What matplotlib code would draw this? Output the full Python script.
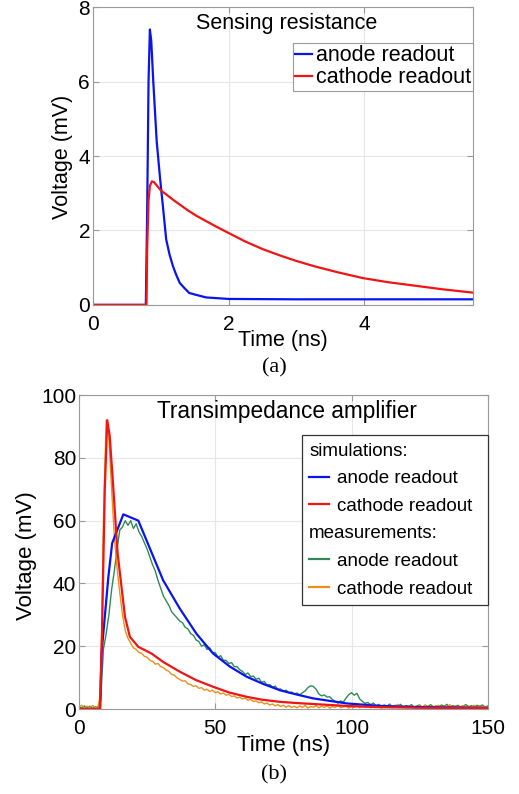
import numpy as np
import matplotlib
matplotlib.use("Agg")
import matplotlib.pyplot as plt
from matplotlib.lines import Line2D

plt.rcParams["font.family"] = ["Liberation Sans", "DejaVu Sans"]

# ---------------------------------------------------------------
# data (a): sensing resistance, time in ns, voltage in mV
# ---------------------------------------------------------------
sr_anode_t = [0, 0.78, 0.80, 0.82, 0.84, 0.86, 0.89, 0.94, 0.99, 1.04, 1.08,
              1.13, 1.18, 1.23, 1.28, 1.35, 1.42, 1.52, 1.67, 2.0, 3.0, 4.0, 5.6]
sr_anode_v = [0, 0, 2.5, 6.0, 7.4, 7.1, 6.0, 4.4, 3.4, 2.5, 1.76,
              1.35, 1.04, 0.8, 0.59, 0.45, 0.32, 0.27, 0.2, 0.16, 0.15, 0.15, 0.15]
sr_cathode_t = [0, 0.79, 0.80, 0.82, 0.84, 0.87, 0.9, 1.0, 1.1, 1.2, 1.3, 1.4,
                1.52, 1.65, 1.8, 1.98, 2.25, 2.5, 2.77, 3.0, 3.26, 3.6, 3.98,
                4.35, 4.73, 5.15, 5.6]
sr_cathode_v = [0, 0, 1.5, 2.8, 3.2, 3.32, 3.3, 3.08, 2.94, 2.8, 2.67, 2.54,
                2.4, 2.27, 2.12, 1.95, 1.7, 1.5, 1.32, 1.18, 1.04, 0.88, 0.72,
                0.61, 0.52, 0.42, 0.33]

# ---------------------------------------------------------------
# data (b): transimpedance amplifier
# ---------------------------------------------------------------
sim_anode_t = [0, 7.8, 8.3, 10.8, 12.2, 16.3, 21.8, 30.9, 37, 43.1, 49.2,
               55.4, 61.5, 67.6, 73.7, 80, 85.9, 98.1, 110.3, 125, 150]
sim_anode_v = [0, 0, 17.7, 42, 52.8, 62, 60, 41, 32, 24, 17.7,
               13.5, 10.3, 8, 6.0, 4.6, 3.4, 1.8, 1.0, 0.6, 0.4]
sim_cathode_t = [0, 7.7, 8.5, 9.5, 10.4, 11.3, 12.5, 14.2, 16.9, 18.7, 21.8,
                 26.6, 30.9, 37, 43, 49.2, 55, 61.5, 67, 73.7, 80, 86, 98,
                 110, 125, 150]
sim_cathode_v = [0, 0, 25, 70, 92, 87, 72, 49.6, 29.4, 23, 19.8,
                 17.7, 15, 11.9, 9.2, 7.1, 5.3, 3.9, 3.0, 2.3, 1.9, 1.6, 1.0,
                 0.6, 0.4, 0.3]

meas_t = list(range(151))
meas_anode_v = [
    0.8, 0.3, 1.0, 0.4, 0.9, 0.2, 0.7, 0.5,
    3, 19, 24, 30, 38, 44, 51, 57, 58, 60, 58.5, 60, 57.5,
    59, 56.5, 55, 53, 51, 48.5, 46, 44, 41, 38.5,
    36, 34.5, 33, 31, 30, 29, 28, 27.5, 26, 25.5,
    24, 23.5, 22, 21.5, 20, 20.5, 19, 19.5, 18, 18,
    16.5, 17, 15.5, 15.5, 14.5, 14.8, 13.5, 13.5, 12.5, 12,
    11, 11.5, 10.3, 10.5, 9.5, 9.8, 8.5, 8.8, 7.6, 7.8,
    7, 7.3, 6.3, 6.4, 5.6, 6, 5.2, 5.4, 4.8, 5.1,
    4.5, 5.2, 5.8, 6.8, 7.4, 7.2, 6.3, 4.8, 4.2, 4.5,
    3.8, 3.9, 3.0, 2.5, 1.9, 2.6, 2.2, 3.5, 4.6, 5.2,
    4.4, 5.0, 3.2, 2.4, 1.8, 2.1, 1.4, 1.9, 1.0, 1.5,
    0.7, 1.3, 0.9, 1.6, 0.6, 1.2, 0.8, 1.5, 0.5, 1.1,
    0.9, 1.4, 0.6, 1.0, 1.3, 0.5, 1.2, 0.8, 1.4, 0.7,
    1.0, 0.6, 1.3, 0.9, 1.5, 0.5, 1.1, 0.8, 1.2, 0.6,
    1.0, 1.4, 0.7, 1.1, 0.5, 1.2, 0.9, 1.3, 0.6, 1.0,
]
meas_cathode_v = [
    0.6, 1.2, 0.3, 0.9, 0.4, 1.1, 0.5, 0.8,
    5, 60, 92, 86, 70, 55, 45, 37, 30, 25, 22.5, 21, 19.5,
    19, 18, 17.8, 16.8, 16.5, 15.5, 15.2, 14.3, 14.5, 13.5,
    13.2, 12.4, 12.0, 11, 10.8, 9.9, 9.4, 8.9, 9.0, 8.0,
    7.8, 7.2, 7.4, 6.6, 6.8, 6.0, 6.3, 5.6, 6.0, 5.2,
    5.5, 4.8, 5.1, 4.4, 4.7, 4.0, 4.2, 3.5, 3.8, 3.2,
    3.5, 2.8, 3.1, 2.4, 2.6, 2.0, 2.3, 1.6, 1.9, 1.3,
    1.6, 1.0, 1.4, 0.8, 1.2, 0.6, 1.1, 0.5, 0.9, 0.4,
    1.0, 0.5, 1.2, 0.3, 0.8, 0.6, 1.1, 0.4, 0.9, 0.5,
    1.0, 0.3, 0.8, 0.5, 1.2, 0.4, 0.7, 0.9, 0.3, 0.8,
    0.5, 1.1, 0.4, 0.9, 0.6, 1.3, 0.4, 0.8, 0.5, 1.0,
    0.3, 0.9, 0.6, 1.2, 0.4, 0.8, 1.5, 0.6, 0.9, 0.4,
    1.1, 0.5, 0.8, 0.3, 1.0, 0.6, 1.3, 0.4, 0.9, 0.5,
    0.8, 1.2, 0.4, 0.9, 0.6, 1.4, 0.5, 1.0, 0.3, 0.8,
    1.1, 0.5, 0.9, 0.4, 1.2, 0.6, 1.0, 0.5, 0.8, 0.6,
]

BLUE = "#0a14f0"
RED = "#f01414"
GREEN = "#2f8a57"
ORANGE = "#e8901c"
SPINE = "#9a9a9a"
GRID = "#e6e6e6"


def style_axes(ax):
    ax.grid(True, color=GRID, lw=0.8)
    ax.set_axisbelow(True)
    for s in ax.spines.values():
        s.set_color(SPINE)
        s.set_linewidth(0.8)
    ax.tick_params(direction="in", length=4, color=SPINE, top=True, right=True,
                   labelsize=15)
    ax.tick_params(axis="y", pad=2)
    ax.tick_params(axis="x", pad=7)


fig = plt.figure(figsize=(5.19, 7.94), dpi=100)

# ------------------------- (a) ---------------------------------
ax1 = fig.add_axes([0.179, 0.616, 0.732, 0.375])
style_axes(ax1)
ax1.plot(sr_anode_t, sr_anode_v, color=BLUE, lw=1.6, label="anode readout")
ax1.plot(sr_cathode_t, sr_cathode_v, color=RED, lw=1.6, label="cathode readout")
ax1.set_xlim(0, 5.6)
ax1.set_ylim(0, 8)
ax1.set_xticks([0, 2, 4])
ax1.set_yticks([0, 2, 4, 6, 8])
ax1.set_xlabel("Time (ns)", fontsize=15.5, va="center")
ax1.xaxis.set_label_coords(0.5, -0.12)
ax1.set_ylabel("Voltage (mV)", fontsize=15.5, va="center")
ax1.yaxis.set_label_coords(-0.079, 0.497)
ax1.text(0.51, 0.946, "Sensing resistance", transform=ax1.transAxes,
         ha="center", va="center", fontsize=15.5)
leg1 = ax1.legend(loc="upper right", bbox_to_anchor=(1.0, 0.879), fontsize=15.5,
                  handlelength=0.8, handletextpad=0.15, borderpad=0.1,
                  labelspacing=0.05, borderaxespad=0, fancybox=False,
                  framealpha=1, edgecolor=SPINE)
leg1.get_frame().set_linewidth(0.8)

fig.text(0.528, 0.537, "(a)", family="Liberation Serif", fontsize=16,
         ha="center", va="center")

# ------------------------- (b) ---------------------------------
ax2 = fig.add_axes([0.152, 0.107, 0.788, 0.3955])
style_axes(ax2)
ax2.plot(meas_t, meas_anode_v, color=GREEN, lw=1.0)
ax2.plot(meas_t, meas_cathode_v, color=ORANGE, lw=1.0)
ax2.plot(sim_anode_t, sim_anode_v, color=BLUE, lw=1.6)
ax2.plot(sim_cathode_t, sim_cathode_v, color=RED, lw=1.6)
ax2.set_xlim(0, 150)
ax2.set_ylim(0, 100)
ax2.set_xticks([0, 50, 100, 150])
ax2.set_yticks([0, 20, 40, 60, 80, 100])
ax2.set_xlabel("Time (ns)", fontsize=16, va="center")
ax2.xaxis.set_label_coords(0.501, -0.117)
ax2.set_ylabel("Voltage (mV)", fontsize=16, va="center")
ax2.yaxis.set_label_coords(-0.127, 0.49)
ax2.text(0.509, 0.946, "Transimpedance amplifier", transform=ax2.transAxes,
         ha="center", va="center", fontsize=16.3)

blank = Line2D([], [], color="none")
handles = [blank,
           Line2D([], [], color=BLUE, lw=1.6),
           Line2D([], [], color=RED, lw=1.6),
           blank,
           Line2D([], [], color=GREEN, lw=1.6),
           Line2D([], [], color=ORANGE, lw=1.6)]
labels = ["simulations:", "anode readout", "cathode readout",
          "measurements:", "anode readout", "cathode readout"]
leg2 = ax2.legend(handles, labels, loc="upper right",
                  bbox_to_anchor=(0.545, 0.3, 0.455, 0.573), mode="expand",
                  fontsize=13.5, handlelength=1.05, handletextpad=0.45,
                  borderpad=0.4, labelspacing=0.56, borderaxespad=0,
                  fancybox=False, framealpha=1, edgecolor="#333333")
leg2.get_frame().set_linewidth(0.9)
# header rows: drop the handle so the text starts at the left edge
for col in leg2._legend_handle_box.get_children():
    for i, row in enumerate(col.get_children()):
        if labels[i].endswith(":"):
            row.get_children()[0].set_width(0)
            row.sep = 0

fig.text(0.528, 0.024, "(b)", family="Liberation Serif", fontsize=16,
         ha="center", va="center")

fig.savefig("out.png", dpi=100)
